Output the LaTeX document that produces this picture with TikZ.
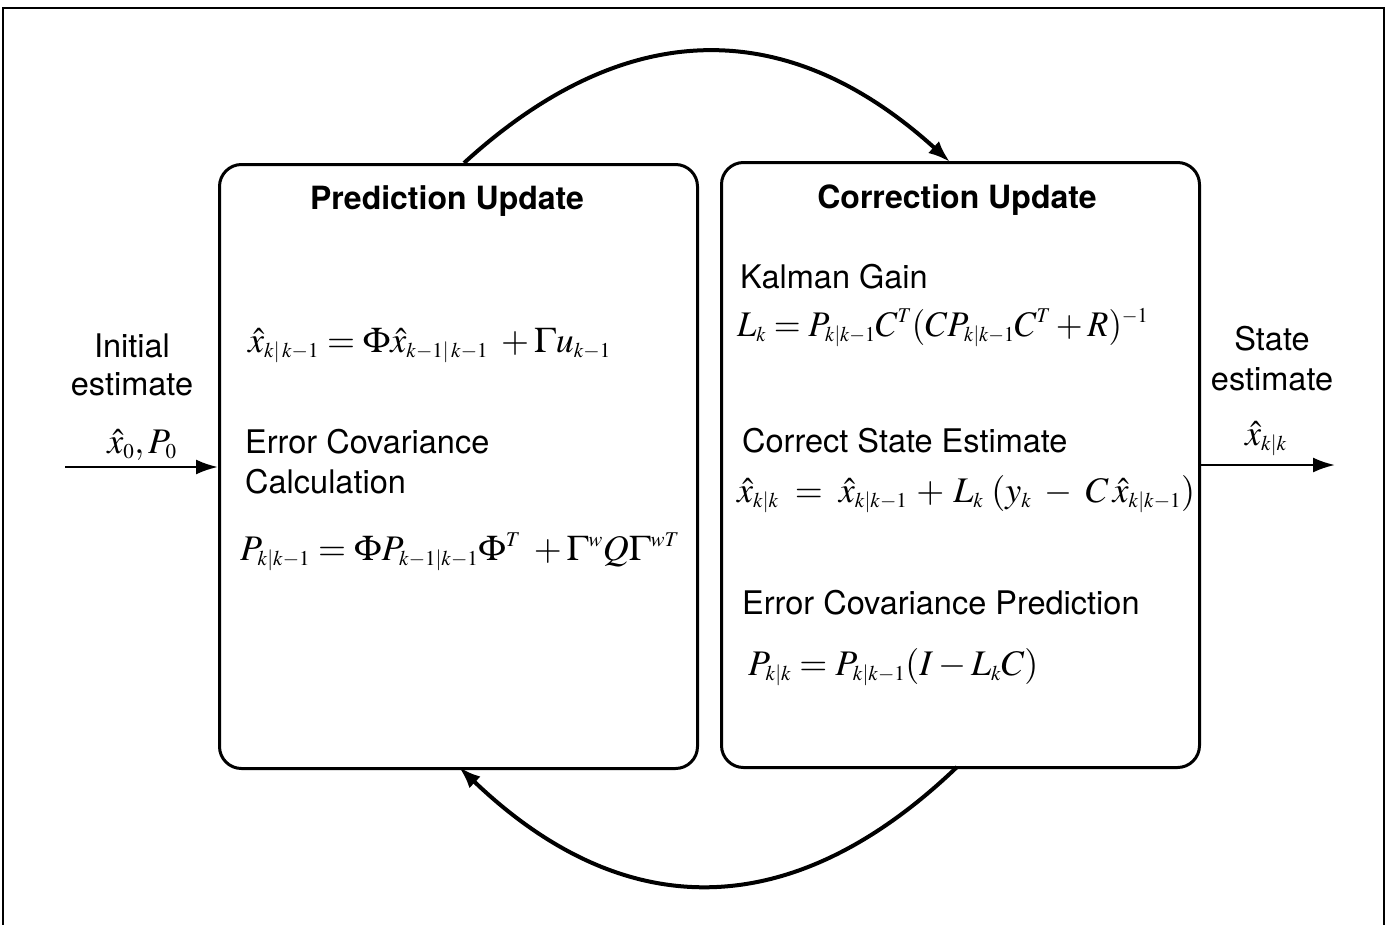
\documentclass[tikz,border=0pt]{standalone}
\usepackage{mathptmx}
\usepackage[no-math]{fontspec}
\setsansfont{TeX Gyre Heros}
\usetikzlibrary{arrows.meta}
\DeclareMathSizes{36}{36}{21}{15}
\begin{document}
\begin{tikzpicture}[x=1pt,y=-1pt,
  box/.style={draw, line width=3pt, rounded corners=22pt},
  lbl/.style={font=\sffamily\fontsize{32.5}{38}\selectfont, inner sep=0pt},
  ttl/.style={font=\sffamily\bfseries\fontsize{32}{38}\selectfont, inner sep=0pt},
  eq/.style={font=\fontsize{36}{42}\selectfont, inner sep=0pt},
  flow/.style={line width=2.5pt, -{Latex[length=22pt,width=15pt]}},
  loop/.style={line width=4pt, -{Latex[length=22pt,width=16pt]}},
]
\useasboundingbox (0,0) rectangle (1389,924);
\fill[white] (0,0) rectangle (1389,924);
% outer frame
\draw[line width=1.6pt] (3,940) -- (3,8) -- (1384,8) -- (1384,940);

% boxes
\node[box, minimum width=478pt, minimum height=604pt, anchor=north west] (pred) at (218,163) {};
\node[box, minimum width=478pt, minimum height=605pt, anchor=north west] (corr) at (720,161) {};

% loop arcs
\coordinate (ts) at (464,163);
\coordinate (te) at (950,162);
\coordinate (bs) at (957,767);
\coordinate (be) at (459,767);
\draw[loop] (ts) .. controls (626,15) and (788,15) .. (te);
\draw[loop] (bs) .. controls (792,925) and (624,925) .. (be);

% titles
\node[ttl, anchor=base] (pt) at (447,209) {Prediction Update};
\node[ttl, anchor=base] (ct) at (957,208) {Correction Update};

% prediction contents
\node[eq, anchor=base west] (e1) at (248,352) {$\hat{x}_{k|\,k-1} = \Phi\hat{x}_{k-1|\,k-1} \;+ \Gamma u_{k-1}$};
\node[lbl, anchor=base west] (ec1) at (245,453) {Error Covariance};
\node[lbl, anchor=base west] (ec2) at (245,493) {Calculation};
\node[eq, anchor=base west] (e2) at (240,560) {$P_{k|k-1} = \Phi P_{k-1|k-1}\Phi^{T} \;+ \Gamma^{w} Q\Gamma^{wT}$};

% correction contents
\node[lbl, anchor=base west] (kg) at (740,288) {Kalman Gain};
\node[eq, anchor=base west] (e3) at (737,336) {\scalebox{0.96}[1]{$L_k = P_{k|k-1}C^{T}(CP_{k|k-1}C^{T} + R)^{-1}$}};
\node[lbl, anchor=base west] (cs) at (742,452) {Correct State Estimate};
\node[eq, anchor=base west] (e4) at (737,502) {$\hat{x}_{k|k} \;=\; \hat{x}_{k|k-1} \,+\, L_k\;(y_k \;-\; C\,\hat{x}_{k|k-1})$};
\node[lbl, anchor=base west] (ep) at (742,614) {Error Covariance Prediction};
\node[eq, anchor=base west] (e5) at (748,675) {$P_{k|k} = P_{k|k-1}(I - L_k C)$};

% input
\node[lbl, anchor=base] (in1) at (132,357) {Initial};
\node[lbl, anchor=base] (in2) at (132,395) {estimate};
\node[eq, anchor=base] (in3) at (142,453) {$\hat{x}_0, P_0$};
\coordinate (inS) at (65,467);
\draw[flow] (inS) -- (pred.west |- inS);

% output
\node[lbl, anchor=base] (out1) at (1272,350) {State};
\node[lbl, anchor=base] (out2) at (1272,390) {estimate};
\node[eq, anchor=base] (out3) at (1266,445) {$\hat{x}_{k|k}$};
\coordinate (outE) at (1335,465);
\draw[flow] (corr.east |- outE) -- (outE);
\end{tikzpicture}
\end{document}
